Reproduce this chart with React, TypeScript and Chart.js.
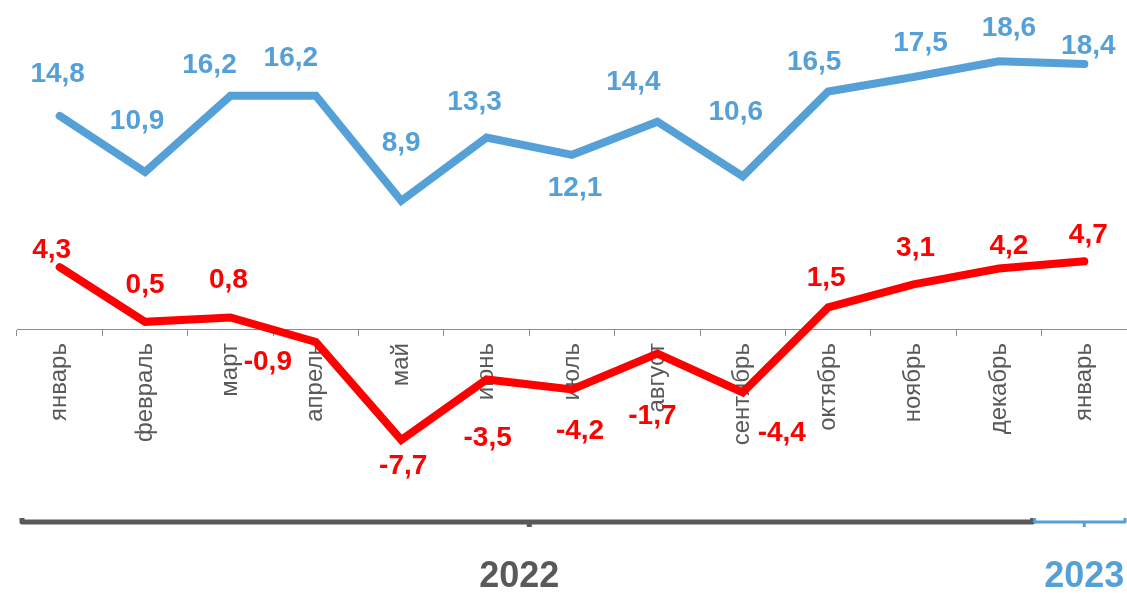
import React, { useEffect, useRef } from 'react';
import { Chart, registerables } from 'chart.js';

Chart.register(...registerables);

// ---- data ----
const months = ['январь', 'февраль', 'март', 'апрель', 'май', 'июнь', 'июль', 'август', 'сентябрь', 'октябрь', 'ноябрь', 'декабрь', 'январь'];
const blueValues = [14.8, 10.9, 16.2, 16.2, 8.9, 13.3, 12.1, 14.4, 10.6, 16.5, 17.5, 18.6, 18.4];
const redValues = [4.3, 0.5, 0.8, -0.9, -7.7, -3.5, -4.2, -1.7, -4.4, 1.5, 3.1, 4.2, 4.7];
const years = ['2022', '2023'];
const monthsPerYear = [12, 1];

// ---- styles ----
const BLUE = '#56A0D8';
const RED = '#FF0000';
const GRAY = '#595959';
const AXIS_GRAY = '#8C8C8C';
const FONT = '"Liberation Sans", Arial, sans-serif';
const yearColors = [GRAY, BLUE];
const yearLineWidths = [5, 3];
const yearTextShift = [-10, 0];
// value label offsets from the point (px)
const blueLabelOffsets = [[-2, -42], [-8, -51], [-21, -30], [-25, -37], [0, -58], [-12, -35], [3, 33], [-24, -39], [-7, -64], [-14, -29], [7, -34], [10, -33], [4, -18]];
const redLabelOffsets = [[-8, -17], [0, -37], [-2, -37], [-48, 20], [2, 26], [1, 59], [8, 42], [-5, 63], [39, 41], [-2, -29], [2, -36], [10, -22], [4, -26]];
const labelOffsets = [blueLabelOffsets, redLabelOffsets];

const fmt = (v: number) => v.toFixed(1).replace('.', ',');

const valueLabelPlugin = {
  id: 'valueLabels',
  afterDatasetsDraw(chart: any) {
    const ctx = chart.ctx;
    chart.data.datasets.forEach((ds: any, di: number) => {
      const meta = chart.getDatasetMeta(di);
      meta.data.forEach((pt: any, i: number) => {
        const off = labelOffsets[di][i];
        ctx.save();
        ctx.font = `bold 28px ${FONT}`;
        ctx.fillStyle = ds.borderColor;
        ctx.textAlign = 'center';
        ctx.textBaseline = 'middle';
        ctx.fillText(fmt(ds.data[i]), pt.x + off[0], pt.y + off[1]);
        ctx.restore();
      });
    });
  },
};

const yearBracketPlugin = {
  id: 'yearBrackets',
  afterDraw(chart: any) {
    const ctx = chart.ctx;
    const xs = chart.scales.x;
    const half = (xs.getPixelForValue(1) - xs.getPixelForValue(0)) / 2;
    const lineY = 522;
    const textY = 577;
    let start = 0;
    years.forEach((yr, k) => {
      const n = monthsPerYear[k];
      const left = xs.getPixelForValue(start) - half;
      const right = xs.getPixelForValue(start + n - 1) + half;
      const mid = (left + right) / 2;
      const a = k === 0 ? left + 5 : left - 7;
      const b = k === 0 ? right - 9 : right - 2;
      ctx.save();
      ctx.strokeStyle = yearColors[k];
      ctx.lineWidth = yearLineWidths[k];
      ctx.lineCap = 'butt';
      ctx.lineJoin = 'round';
      ctx.beginPath();
      ctx.moveTo(a, lineY - 4);
      ctx.lineTo(a, lineY);
      ctx.lineTo(b, lineY);
      ctx.lineTo(b, lineY - 4);
      ctx.stroke();
      ctx.beginPath();
      ctx.moveTo(mid, lineY);
      ctx.lineTo(mid, lineY + 5);
      ctx.stroke();
      ctx.font = `bold 36px ${FONT}`;
      ctx.fillStyle = yearColors[k];
      ctx.textAlign = 'center';
      ctx.textBaseline = 'middle';
      ctx.fillText(yr, mid + yearTextShift[k], textY);
      ctx.restore();
      start += n;
    });
  },
};

export default function App() {
  const ref = useRef<HTMLCanvasElement>(null);
  useEffect(() => {
    if (!ref.current) return;
    const chart = new Chart(ref.current, {
      type: 'line',
      data: {
        labels: months,
        datasets: [
          {
            data: blueValues,
            borderColor: BLUE,
            backgroundColor: BLUE,
            borderWidth: 8,
            pointRadius: 0,
            tension: 0,
            borderCapStyle: 'round',
            borderJoinStyle: 'miter',
          },
          {
            data: redValues,
            borderColor: RED,
            backgroundColor: RED,
            borderWidth: 8,
            pointRadius: 0,
            tension: 0,
            borderCapStyle: 'round',
            borderJoinStyle: 'miter',
          },
        ],
      },
      options: {
        animation: false,
        responsive: false,
        layout: { padding: { left: 17, right: 0, top: 0, bottom: 0 } },
        plugins: { legend: { display: false }, tooltip: { enabled: false } },
        scales: {
          x: {
            position: { y: 0 } as any,
            offset: true,
            grid: {
              offset: true,
              drawOnChartArea: false,
              drawTicks: true,
              tickLength: 6,
              color: AXIS_GRAY,
              lineWidth: 1,
            },
            border: { display: true, color: AXIS_GRAY, width: 1 },
            ticks: {
              autoSkip: false,
              maxRotation: 90,
              minRotation: 90,
              padding: 8,
              color: GRAY,
              font: { family: FONT, size: 24 },
            },
          },
          y: {
            display: false,
            min: -18.4,
            max: 22.85,
          },
        },
      },
      plugins: [valueLabelPlugin, yearBracketPlugin],
    });
    return () => chart.destroy();
  }, []);
  return (
    <div style={{ position: 'absolute', left: 0, top: 0, width: 1127, height: 594, background: '#fff' }}>
      <canvas ref={ref} width={1127} height={594} style={{ display: 'block' }} />
    </div>
  );
}
